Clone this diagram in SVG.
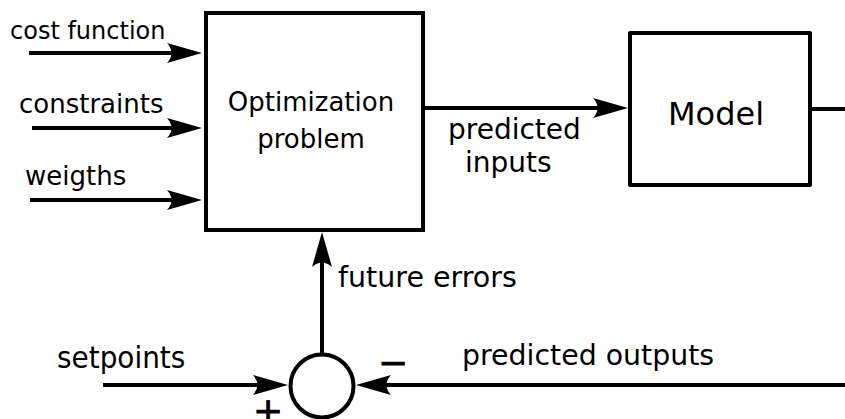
<svg xmlns="http://www.w3.org/2000/svg" width="845" height="419" viewBox="0 0 845 419">
  <style>
    .box { fill: #fff; stroke: #000; stroke-width: 4; }
    .wire { fill: none; stroke: #000; stroke-width: 4; }
    .arrow { fill: none; stroke: #000; stroke-width: 4; marker-end: url(#head); }
    text { font-family: "DejaVu Sans", "Liberation Sans", sans-serif; fill: #000; }
    .cond { font-family: "DejaVu Sans Condensed", "DejaVu Sans", sans-serif; font-stretch: condensed; }
    .sign { font-size: 36px; text-anchor: middle; stroke: #000; stroke-width: 0.8; }
  </style>
  <defs>
    <!-- concave-back arrowhead; the line ends at the notch (0,0), tip sits 26 units ahead -->
    <marker id="head" markerUnits="userSpaceOnUse" refX="0" refY="0" orient="auto" overflow="visible">
      <path d="M -9,-10 L 26,0 L -9,10 Q 0,0 -9,-10 Z" fill="#000"/>
    </marker>
  </defs>

  <g id="connectors">
    <line class="arrow" x1="29" y1="53" x2="176" y2="53"/>
    <line class="arrow" x1="32" y1="128" x2="176" y2="128"/>
    <line class="arrow" x1="30" y1="200" x2="176" y2="200"/>
    <line class="arrow" x1="423" y1="108" x2="602" y2="108"/>
    <line class="wire" x1="810" y1="109" x2="845" y2="109"/>
    <line class="arrow" x1="103" y1="385" x2="262" y2="385"/>
    <line class="arrow" x1="845" y1="385" x2="382" y2="385"/>
    <line class="arrow" x1="322" y1="355" x2="322" y2="258"/>
  </g>

  <g id="optimization">
    <rect class="box" x="206" y="13" width="217" height="217"/>
    <text x="311" y="111" font-size="26" text-anchor="middle">Optimization</text>
    <text x="311" y="148" font-size="26" text-anchor="middle">problem</text>
  </g>

  <g id="model">
    <rect class="box" x="630" y="33" width="180" height="152" stroke-linejoin="round"/>
    <text x="716" y="125" font-size="32" text-anchor="middle">Model</text>
  </g>

  <g id="sum">
    <circle class="box" cx="322" cy="386" r="31.5" stroke-width="4.5"/>
    <text class="sign" x="393" y="375">−</text>
    <text class="sign" x="268" y="423">+</text>
  </g>

  <g id="labels">
    <text x="10" y="39" font-size="24">cost function</text>
    <text x="19" y="113" font-size="26">constraints</text>
    <text x="25" y="185" font-size="26">weigths</text>
    <text x="448" y="139" font-size="28">predicted</text>
    <text x="465" y="172" font-size="28">inputs</text>
    <text x="338" y="287" font-size="28.5">future errors</text>
    <text class="cond" x="57" y="368" font-size="31">setpoints</text>
    <text x="462" y="365" font-size="28.4">predicted outputs</text>
  </g>
</svg>
